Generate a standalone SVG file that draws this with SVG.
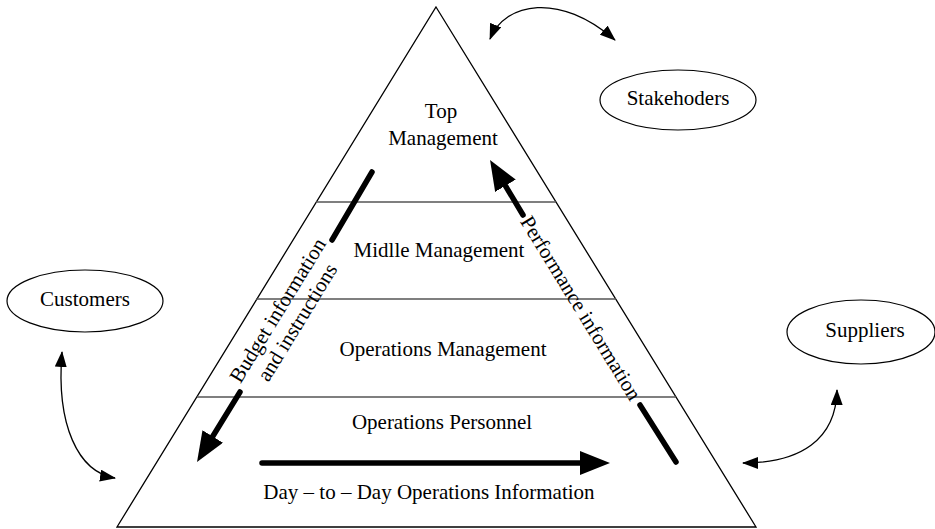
<svg xmlns="http://www.w3.org/2000/svg" width="935" height="529" viewBox="0 0 935 529">
<style>
  text { font-family: "Liberation Serif", "Times New Roman", serif; font-size: 21px; fill: #000; }
  .c { text-anchor: middle; }
  .edge { fill: none; stroke: #000; stroke-width: 1.3; }
  .tier { stroke: #555; stroke-width: 1.6; }
  .node { fill: #fff; stroke: #000; stroke-width: 1.2; }
  .thin { fill: none; stroke: #000; stroke-width: 1.3; }
  .thick { fill: none; stroke: #000; stroke-width: 5.5; stroke-linecap: round; }
</style>
<defs>
  <marker id="sm" markerUnits="userSpaceOnUse" markerWidth="16" markerHeight="12" viewBox="0 0 16 12" refX="15" refY="6" orient="auto-start-reverse">
    <path d="M0,0 L16,6 L0,12 z" fill="#000"/>
  </marker>
  <marker id="big" markerUnits="userSpaceOnUse" markerWidth="30" markerHeight="24" viewBox="0 0 30 24" refX="18" refY="12" orient="auto">
    <path d="M0,0 L30,12 L0,24 z" fill="#000"/>
  </marker>
</defs>

<g id="pyramid">
  <polygon class="edge" points="436,7 756,527 117,527"/>
  <line class="tier" x1="316" y1="202" x2="556" y2="202"/>
  <line class="tier" x1="256" y1="299" x2="616" y2="299"/>
  <line class="tier" x1="197" y1="397" x2="676" y2="397"/>
</g>

<g id="top-management">
  <text class="c" x="441" y="118">Top</text>
  <text class="c" x="443" y="145">Management</text>
</g>
<g id="middle-management">
  <text class="c" x="439" y="257">Midlle Management</text>
</g>
<g id="operations-management">
  <text class="c" x="443" y="356">Operations Management</text>
</g>
<g id="operations-personnel">
  <text class="c" x="442" y="429">Operations Personnel</text>
</g>
<g id="day-to-day">
  <text class="c" x="429" y="499">Day – to – Day Operations Information</text>
</g>

<g id="stakeholders">
  <ellipse class="node" cx="678" cy="100" rx="78" ry="30"/>
  <text class="c" x="678" y="105">Stakehoders</text>
</g>
<g id="customers">
  <ellipse class="node" cx="85" cy="301" rx="78" ry="31"/>
  <text class="c" x="85" y="306">Customers</text>
</g>
<g id="suppliers">
  <ellipse class="node" cx="861" cy="332" rx="74" ry="32"/>
  <text class="c" x="865" y="337">Suppliers</text>
</g>

<g id="connectors">
  <path class="thin" d="M490,39 C505,2 560,-8 615,40" marker-start="url(#sm)" marker-end="url(#sm)"/>
  <path class="thin" d="M62,352 C56,425 78,472 115,478" marker-start="url(#sm)" marker-end="url(#sm)"/>
  <path class="thin" d="M837,390 C836,440 800,463 743,463" marker-start="url(#sm)" marker-end="url(#sm)"/>

  <line class="thick" x1="372" y1="172" x2="332" y2="240"/>
  <line class="thick" x1="240" y1="392" x2="203.3" y2="451.8" marker-end="url(#big)"/>

  <line class="thick" x1="640" y1="405" x2="676" y2="462"/>
  <line class="thick" x1="523" y1="215" x2="496.2" y2="170.3" marker-end="url(#big)"/>

  <line class="thick" x1="262" y1="463" x2="598" y2="463" marker-end="url(#big)"/>

  <g transform="translate(287,316) rotate(-58.5)">
    <text class="c" x="0" y="-4">Budget information</text>
    <text class="c" x="0" y="19">and instructions</text>
  </g>
  <g transform="translate(581,308) rotate(58.5)">
    <text class="c" x="0" y="7">Performance information</text>
  </g>
</g>
</svg>
